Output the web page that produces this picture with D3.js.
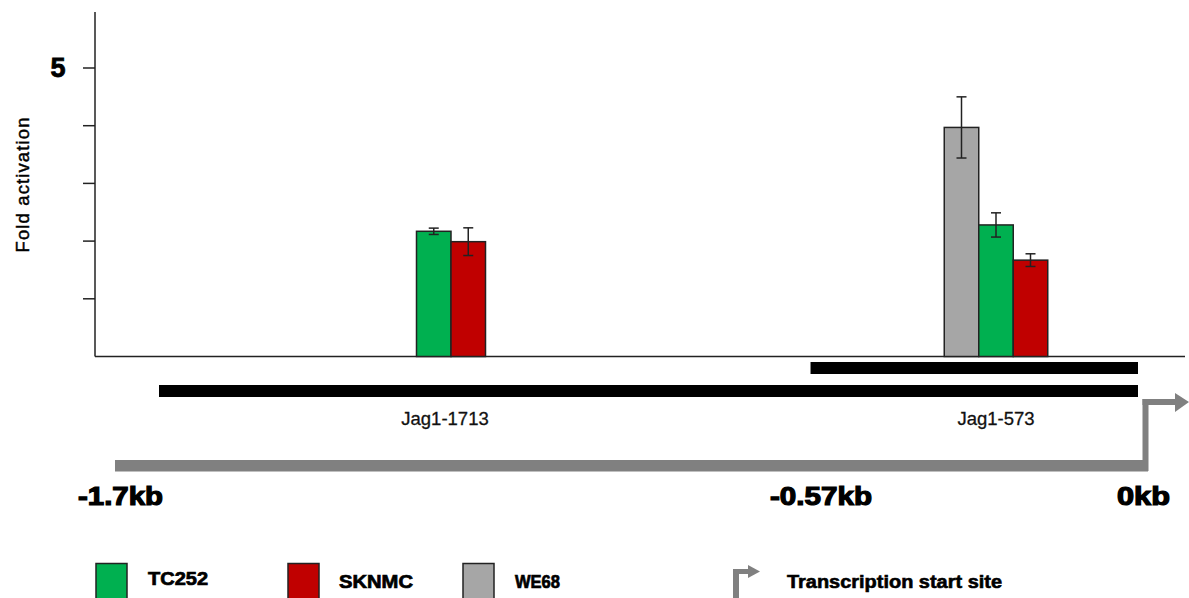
<!DOCTYPE html>
<html><head><meta charset="utf-8">
<script src="https://cdn.jsdelivr.net/npm/d3@7"></script>
<style>body{margin:0;background:#fff}svg{display:block;font-family:"Liberation Sans",Arial,sans-serif}</style>
</head><body>
<svg id="chart" width="1189" height="598"></svg>
<script>
// ---- data ----
const categories = ["Jag1-1713", "Jag1-573"];
const seriesNames = ["WE68", "TC252", "SKNMC"];
const seriesColors = ["#A6A6A6", "#00B050", "#C00000"];
const valuesWE68  = [null, 3.97];
const valuesTC252 = [2.17, 2.28];
const valuesSKNMC = [1.99, 1.67];
const errWE68  = [null, 0.53];
const errTC252 = [0.055, 0.21];
const errSKNMC = [0.24, 0.11];
const yTicks = [1, 2, 3, 4, 5];
const yTickLabels = ["", "", "", "", "5"];
const constructStarts = [-1.713, -0.573]; // kb, each ending at TSS (0 kb)
const kbTicks = [-1.7, -0.57, 0];
const kbLabels = ["-1.7kb", "-0.57kb", "0kb"];
const genomeStart = -1.79;
const legendItems = ["TC252", "SKNMC", "WE68"];
const legendColors = ["#00B050", "#C00000", "#A6A6A6"];
const tssLabel = "Transcription start site";

const seriesValues = [valuesWE68, valuesTC252, valuesSKNMC];
const seriesErrs = [errWE68, errTC252, errSKNMC];

const svg = d3.select("#chart");
const axisX = 95, axisRight = 1185;
const y = d3.scaleLinear().domain([0, 6]).range([356.5, 10.3]);
const xGroup = d3.scalePoint().domain(categories).range([451, 996]);
const barW = 34.5;
const gkb = d3.scaleLinear().domain([constructStarts[0], 0]).range([159, 1138]);
const stroke = "#222";

// y axis
svg.append("line").attr("x1", axisX).attr("x2", axisX).attr("y1", 12).attr("y2", y(0))
  .attr("stroke", stroke).attr("stroke-width", 1.5);
svg.append("line").attr("x1", axisX).attr("x2", axisRight).attr("y1", y(0)).attr("y2", y(0))
  .attr("stroke", stroke).attr("stroke-width", 1.5);
svg.selectAll(".ytick").data(yTicks).join("line")
  .attr("x1", axisX - 12).attr("x2", axisX).attr("y1", d => y(d)).attr("y2", d => y(d))
  .attr("stroke", stroke).attr("stroke-width", 1.5);
svg.selectAll(".yl").data(yTicks).join("text")
  .attr("x", 58).attr("y", d => y(d) + 9).attr("text-anchor", "middle")
  .attr("font-size", 27).attr("font-weight", "bold").attr("stroke", "#000").attr("stroke-width", 0.8)
  .text((d, i) => yTickLabels[i]);
svg.append("text").attr("transform", "translate(29,185) rotate(-90)").attr("text-anchor", "middle")
  .attr("font-size", 18.5).attr("textLength", 135).attr("lengthAdjust", "spacing")
  .attr("stroke", "#000").attr("stroke-width", 0.45)
  .text("Fold activation");

// bars
categories.forEach((cat, ci) => {
  const present = seriesNames.map((s, si) => si).filter(si => seriesValues[si][ci] != null);
  const start = xGroup(cat) - present.length * barW / 2;
  present.forEach((si, k) => {
    const v = seriesValues[si][ci], e = seriesErrs[si][ci];
    const x0 = start + k * barW;
    svg.append("rect").attr("x", x0).attr("y", y(v)).attr("width", barW).attr("height", y(0) - y(v))
      .attr("fill", seriesColors[si]).attr("stroke", stroke).attr("stroke-width", 1.5);
    const cx = x0 + barW / 2;
    const g = svg.append("g").attr("stroke", stroke).attr("stroke-width", 1.5);
    g.append("line").attr("x1", cx).attr("x2", cx).attr("y1", y(v + e)).attr("y2", y(v - e));
    g.append("line").attr("x1", cx - 5).attr("x2", cx + 5).attr("y1", y(v + e)).attr("y2", y(v + e));
    g.append("line").attr("x1", cx - 5).attr("x2", cx + 5).attr("y1", y(v - e)).attr("y2", y(v - e));
  });
});

// construct bars
const constructY = [391, 368];
svg.selectAll(".cons").data(constructStarts).join("rect")
  .attr("x", d => gkb(d)).attr("width", d => gkb(0) - gkb(d))
  .attr("y", (d, i) => constructY[i] - 6).attr("height", 12).attr("fill", "#000");
svg.selectAll(".clab").data(categories).join("text")
  .attr("x", d => xGroup(d) - (d === categories[0] ? 6 : 0)).attr("y", 425).attr("text-anchor", "middle")
  .attr("font-size", 18.5).attr("fill", "#111").attr("stroke", "#111").attr("stroke-width", 0.3).text(d => d);

// gray genome line with TSS arrow
const gray = "#808080";
svg.append("rect").attr("x", gkb(genomeStart)).attr("y", 460).attr("width", gkb(0) + 10 - gkb(genomeStart)).attr("height", 11.5).attr("fill", gray);
svg.append("rect").attr("x", gkb(0) + 4.5).attr("y", 399).attr("width", 6).attr("height", 72).attr("fill", gray);
svg.append("rect").attr("x", gkb(0) + 4.5).attr("y", 399).attr("width", 34).attr("height", 6).attr("fill", gray);
svg.append("path").attr("d", `M${gkb(0)+37},393 L1189,402 L${gkb(0)+37},412 Z`).attr("fill", gray);

// kb labels
const kbStartX = [78, 770, 1117], kbWidth = [85, 102, 53];
svg.selectAll(".kb").data(kbTicks).join("text")
  .attr("x", (d, i) => kbStartX[i]).attr("y", 505)
  .attr("textLength", (d, i) => kbWidth[i]).attr("lengthAdjust", "spacingAndGlyphs")
  .attr("font-size", 25).attr("font-weight", "bold").attr("stroke", "#000").attr("stroke-width", 1.2)
  .text((d, i) => kbLabels[i]);

// legend
const legX = [96, 288, 463], legTX = [148, 339, 515], legW = [60, 74, 45];
legendItems.forEach((name, i) => {
  svg.append("rect").attr("x", legX[i]).attr("y", 563.5).attr("width", 31).attr("height", 40)
    .attr("fill", legendColors[i]).attr("stroke", stroke).attr("stroke-width", 1.5);
  svg.append("text").attr("x", legTX[i]).attr("y", i === 0 ? 585 : 587.5)
    .attr("font-size", 18).attr("font-weight", "bold")
    .attr("textLength", legW[i]).attr("lengthAdjust", "spacingAndGlyphs")
    .attr("stroke", "#000").attr("stroke-width", 0.7).text(name);
});
svg.append("rect").attr("x", 733).attr("y", 569).attr("width", 6).attr("height", 29).attr("fill", gray);
svg.append("rect").attr("x", 733).attr("y", 569).attr("width", 16).attr("height", 5).attr("fill", gray);
svg.append("path").attr("d", "M748,565 L760,571.5 L748,578 Z").attr("fill", gray);
svg.append("text").attr("x", 787).attr("y", 588).attr("font-size", 18).attr("font-weight", "bold")
  .attr("textLength", 215).attr("lengthAdjust", "spacingAndGlyphs")
  .attr("stroke", "#000").attr("stroke-width", 0.6).text(tssLabel);
</script>
</body></html>
